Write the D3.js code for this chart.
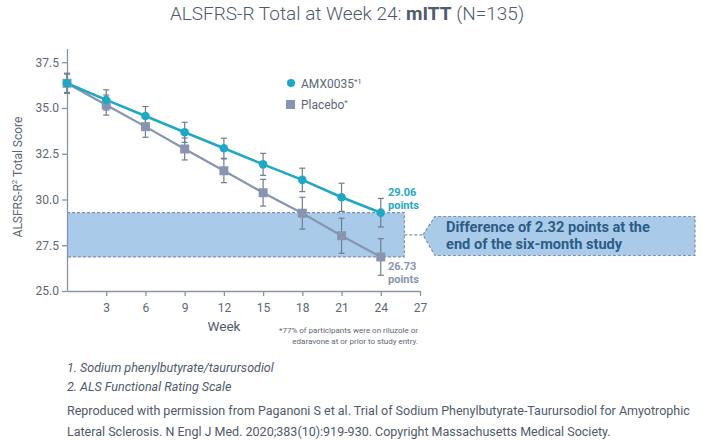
<!DOCTYPE html>
<html><head><meta charset="utf-8">
<script src="https://cdn.jsdelivr.net/npm/d3@7"></script>
<style>
body{margin:0;background:#fff;}
svg{display:block;font-family:Roboto,"Noto Sans",sans-serif;}
</style></head>
<body>
<svg id="c" width="702" height="441"></svg>
<script>
const weeks = [0, 3, 6, 9, 12, 15, 18, 21, 24];
const amxValues = [36.35, 35.44, 34.56, 33.67, 32.80, 31.92, 31.07, 30.12, 29.28];
const amxErrors = [0.55, 0.55, 0.52, 0.55, 0.55, 0.6, 0.64, 0.77, 0.78];
const placeboValues = [36.35, 35.16, 33.98, 32.76, 31.57, 30.37, 29.25, 28.02, 26.86];
const placeboErrors = [0.5, 0.55, 0.58, 0.6, 0.65, 0.73, 0.87, 0.96, 1.0];
const xTicks = [3, 6, 9, 12, 15, 18, 21, 24, 27];
const yTicks = [25, 27.5, 30, 32.5, 35, 37.5];
const endLabels = ["29.06", "26.73"];

const teal = "#1fa8c6", slate = "#8795b1", errC = "#6f7c92", axisC = "#8a93a3", textC = "#5d6778";
const svg = d3.select("#c");
const x = d3.scaleLinear().domain([0, 27]).range([67, 420]);
const y = d3.scaleLinear().domain([25, 38.25]).range([291, 48.5]);

// title
const t = svg.append("text").attr("x", 347).attr("y", 20).attr("text-anchor", "middle")
  .attr("font-size", 19).attr("fill", "#4f5a6b");
t.append("tspan").attr("font-weight", 300).text("ALSFRS-R Total at Week 24: ");
t.append("tspan").attr("font-weight", 700).text("mITT");
t.append("tspan").attr("font-weight", 300).text(" (N=135)");

// band between end values
const bandTop = amxValues[8], bandBot = placeboValues[8];
svg.append("rect").attr("x", x(0)).attr("y", y(bandTop)).attr("width", x(25.8) - x(0))
  .attr("height", y(bandBot) - y(bandTop)).attr("fill", "#a9cbe9");
svg.append("path").attr("d",
  `M${x(0)},${y(bandTop)}H${x(25.8)}V${y(bandBot)}H${x(0)}`)
  .attr("fill", "none").attr("stroke", "#7f90ab").attr("stroke-width", 1.2).attr("stroke-dasharray", "3,2");
// connector
const midY = (y(bandTop) + y(bandBot)) / 2;
svg.append("line").attr("x1", x(25.8)).attr("x2", 423).attr("y1", midY).attr("y2", midY)
  .attr("stroke", "#7f90ab").attr("stroke-width", 1.2).attr("stroke-dasharray", "3,2");
// callout
svg.append("path").attr("d", `M423,${midY}L435,216.5H695V255.5H435Z`)
  .attr("fill", "#a9cbe9").attr("stroke", "#7f90ab").attr("stroke-width", 1.2).attr("stroke-dasharray", "3,2");
const ct = svg.append("text").attr("font-size", 14.6).attr("font-weight", 700).attr("fill", "#2c5c85");
ct.append("tspan").attr("x", 446).attr("y", 232).text("Difference of 2.32 points at the");
ct.append("tspan").attr("x", 446).attr("y", 249).text("end of the six-month study");

// axes
const yAxis = d3.axisLeft(y).tickValues(yTicks).tickFormat(d3.format(".1f")).tickSize(5).tickSizeOuter(0);
const gy = svg.append("g").attr("transform", `translate(${x(0)},0)`).call(yAxis);
const xAxis = d3.axisBottom(x).tickValues(xTicks).tickSize(5).tickSizeOuter(0);
const gx = svg.append("g").attr("transform", `translate(0,${y(25)})`).call(xAxis);
[gx, gy].forEach(g => {
  g.select(".domain").attr("stroke", axisC).attr("stroke-width", 1.3);
  g.selectAll(".tick line").attr("stroke", axisC).attr("stroke-width", 1.3);
  g.selectAll(".tick text").attr("fill", textC).attr("font-size", 12).attr("font-family", "Roboto,sans-serif");
});
gx.selectAll(".tick text").attr("dy", "1.1em");

// axis titles
svg.append("text").attr("x", 224).attr("y", 331).attr("text-anchor", "middle")
  .attr("font-size", 13.5).attr("fill", "#4f5a6b").text("Week");
const yl = svg.append("text").attr("transform", "translate(22,177) rotate(-90)").attr("text-anchor", "middle")
  .attr("font-size", 12).attr("fill", textC);
yl.append("tspan").text("ALSFRS-R");
yl.append("tspan").attr("font-size", 8).attr("dy", -5).text("2");
yl.append("tspan").attr("dy", 5).text(" Total Score");

// lines
const line = d3.line().x((d, i) => x(weeks[i])).y(d => y(d));
svg.append("path").datum(placeboValues).attr("d", line).attr("fill", "none").attr("stroke", slate).attr("stroke-width", 2.2);
svg.append("path").datum(amxValues).attr("d", line).attr("fill", "none").attr("stroke", teal).attr("stroke-width", 2.6);

// error bars
function errBars(vals, errs) {
  const g = svg.append("g").attr("stroke", errC).attr("stroke-width", 1.2);
  weeks.forEach((w, i) => {
    const cx = x(w), y1 = y(vals[i] + errs[i]), y2 = y(vals[i] - errs[i]);
    g.append("line").attr("x1", cx).attr("x2", cx).attr("y1", y1).attr("y2", y2);
    g.append("line").attr("x1", cx - 3).attr("x2", cx + 3).attr("y1", y1).attr("y2", y1);
    g.append("line").attr("x1", cx - 3).attr("x2", cx + 3).attr("y1", y2).attr("y2", y2);
  });
}
errBars(placeboValues, placeboErrors);
errBars(amxValues, amxErrors);

// markers
svg.append("g").selectAll("rect").data(placeboValues).join("rect")
  .attr("x", (d, i) => x(weeks[i]) - 4.5).attr("y", d => y(d) - 4.5)
  .attr("width", 9).attr("height", 9).attr("fill", slate);
svg.append("g").selectAll("circle").data(amxValues).join("circle")
  .attr("cx", (d, i) => x(weeks[i])).attr("cy", d => y(d)).attr("r", 4.3).attr("fill", teal);

// end labels
const l1 = svg.append("text").attr("font-size", 11).attr("font-weight", 700).attr("fill", teal);
l1.append("tspan").attr("x", 388).attr("y", 196).text(endLabels[0]);
l1.append("tspan").attr("x", 388).attr("y", 208.5).text("points");
const l2 = svg.append("text").attr("font-size", 11).attr("font-weight", 700).attr("fill", "#8a96ad");
l2.append("tspan").attr("x", 388).attr("y", 270).text(endLabels[1]);
l2.append("tspan").attr("x", 388).attr("y", 282.5).text("points");

// legend
svg.append("circle").attr("cx", 291).attr("cy", 83).attr("r", 4).attr("fill", teal);
const lg1 = svg.append("text").attr("x", 301).attr("y", 87.5).attr("font-size", 12).attr("fill", textC);
lg1.append("tspan").text("AMX0035");
lg1.append("tspan").attr("font-size", 8).attr("dy", -4).text("*1");
svg.append("rect").attr("x", 286).attr("y", 100).attr("width", 9).attr("height", 9).attr("fill", slate);
const lg2 = svg.append("text").attr("x", 301).attr("y", 109).attr("font-size", 12).attr("fill", textC);
lg2.append("tspan").text("Placebo");
lg2.append("tspan").attr("font-size", 8).attr("dy", -4).text("*");

// footnote
const fn = svg.append("text").attr("text-anchor", "end").attr("font-size", 8).attr("fill", textC);
fn.append("tspan").attr("x", 418).attr("y", 333).text("*77% of participants were on riluzole or");
fn.append("tspan").attr("x", 418).attr("y", 344).text("edaravone at or prior to study entry.");

// references
svg.append("text").attr("x", 67).attr("y", 372).attr("font-size", 12.5).attr("font-style", "italic").attr("fill", "#4f5a6b")
  .text("1. Sodium phenylbutyrate/taurursodiol");
svg.append("text").attr("x", 67).attr("y", 391).attr("font-size", 12.5).attr("font-style", "italic").attr("fill", "#4f5a6b")
  .text("2. ALS Functional Rating Scale");
svg.append("text").attr("x", 67).attr("y", 415).attr("font-size", 12.5).attr("fill", "#4f5a6b")
  .text("Reproduced with permission from Paganoni S et al. Trial of Sodium Phenylbutyrate-Taurursodiol for Amyotrophic");
svg.append("text").attr("x", 67).attr("y", 436).attr("font-size", 12.5).attr("fill", "#4f5a6b")
  .text("Lateral Sclerosis. N Engl J Med. 2020;383(10):919-930. Copyright Massachusetts Medical Society.");
</script>
</body></html>
